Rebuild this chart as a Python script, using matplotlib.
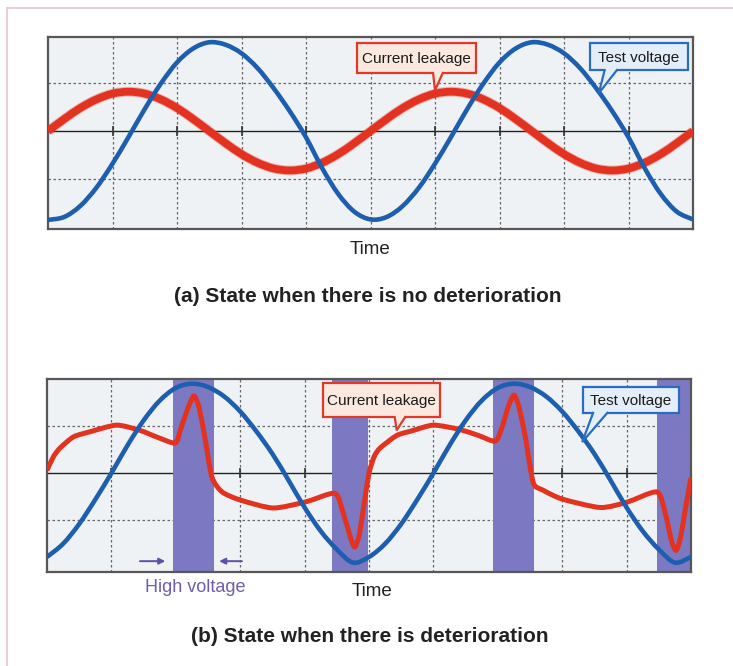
import numpy as np
import matplotlib
matplotlib.use("Agg")
import matplotlib.pyplot as plt
from matplotlib.patches import Polygon, Rectangle, PathPatch
from matplotlib.path import Path
from matplotlib.lines import Line2D

plt.rcParams['font.family'] = ['Liberation Sans', 'DejaVu Sans']

# ---- sampled waveforms (time in grid divisions, amplitude in grid divisions) ----
t_step = np.arange(0, 10.001, 0.25)

# (a) healthy insulation
volt_a = [-1.85, -1.79, -1.56, -1.18, -0.68, -0.12, 0.46, 0.99, 1.43, 1.72, 1.85,
          1.80, 1.62, 1.31, 0.89, 0.41, -0.13, -0.77, -1.31, -1.68, -1.84,
          -1.79, -1.56, -1.18, -0.68, -0.12, 0.46, 0.99, 1.43, 1.72, 1.85,
          1.80, 1.62, 1.31, 0.89, 0.41, -0.13, -0.77, -1.31, -1.68, -1.84]
leak_a = [0.0, 0.25, 0.48, 0.66, 0.78, 0.82, 0.78, 0.66, 0.48, 0.25, 0.0,
          -0.25, -0.48, -0.66, -0.78, -0.82, -0.78, -0.66, -0.48, -0.25, 0.0,
          0.25, 0.48, 0.66, 0.78, 0.82, 0.78, 0.66, 0.48, 0.25, 0.0,
          -0.25, -0.48, -0.66, -0.78, -0.82, -0.78, -0.66, -0.48, -0.25, 0.0]

# (b) deteriorated insulation
volt_b = [-1.78, -1.50, -1.08, -0.56, 0.0, 0.59, 1.12, 1.54, 1.81, 1.90,
          1.83, 1.63, 1.31, 0.89, 0.41, -0.15, -0.73, -1.23, -1.62, -1.90,
          -1.78, -1.50, -1.08, -0.56, 0.0, 0.59, 1.12, 1.54, 1.81, 1.90,
          1.83, 1.63, 1.31, 0.89, 0.41, -0.15, -0.73, -1.23, -1.62, -1.90, -1.78]
leak_b_t = [0.0, 0.1, 0.2, 0.41, 0.67, 1.08, 1.44, 1.7, 1.99, 2.07,
            2.18, 2.28, 2.36, 2.45, 2.56, 2.72, 3.0, 3.51, 4.02, 4.47,
            4.6, 4.72, 4.78, 4.85, 4.93, 5.0, 5.08, 5.17, 5.43, 5.67,
            6.0, 6.4, 6.7, 6.96, 7.06, 7.16, 7.25, 7.33, 7.43, 7.55,
            7.7, 8.0, 8.59, 9.0, 9.47, 9.6, 9.7, 9.77, 9.84, 9.92, 10.0]
leak_b = [0.06, 0.35, 0.53, 0.77, 0.88, 1.02, 0.91, 0.77, 0.64, 0.91,
          1.35, 1.64, 1.4, 0.77, -0.08, -0.4, -0.57, -0.74, -0.61, -0.43,
          -0.85, -1.4, -1.57, -1.3, -0.6, 0.0, 0.35, 0.53, 0.8, 0.9,
          1.02, 0.93, 0.8, 0.68, 0.95, 1.4, 1.66, 1.4, 0.75, -0.2,
          -0.36, -0.55, -0.73, -0.62, -0.4, -0.85, -1.45, -1.64, -1.35, -0.7, -0.1]

# high-voltage windows (start, end)
hv_windows = [(1.96, 2.59), (4.42, 4.98), (6.93, 7.56), (9.47, 10.0)]

titles = ["(a) State when there is no deterioration",
          "(b) State when there is deterioration"]
label_time = "Time"
label_leak = "Current leakage"
label_volt = "Test voltage"
label_hv = "High voltage"

BLUE = '#1d5fae'
RED = '#e3321f'
PURPLE = '#5d50a8'
BAND = '#7c78c2'
W, H = 733, 666

fig = plt.figure(figsize=(W / 100, H / 100), dpi=100)
fig.patch.set_facecolor('white')

# thin page frame
fig.add_artist(Line2D([7 / W, 1], [1 - 8 / H, 1 - 8 / H], color='#e8c6cb', lw=1.2))
fig.add_artist(Line2D([7 / W, 7 / W], [0, 1 - 8 / H], color='#e8c6cb', lw=1.2))


def smooth_trace(ax, xs, ys, k=1 / 6, **kw):
    """Draw a trace through the samples as a Catmull-Rom style Bezier path."""
    p = np.column_stack([np.asarray(xs, float), np.asarray(ys, float)])
    n = len(p)
    verts = [p[0]]
    codes = [Path.MOVETO]
    for i in range(n - 1):
        p0 = p[i - 1] if i > 0 else p[i]
        p3 = p[i + 2] if i + 2 < n else p[i + 1]
        c1 = p[i] + (p[i + 1] - p0) * k
        c2 = p[i + 1] - (p3 - p[i]) * k
        verts += [c1, c2, p[i + 1]]
        codes += [Path.CURVE4] * 3
    patch = PathPatch(Path(verts, codes), fill=False, capstyle='butt',
                      joinstyle='round', **kw)
    ax.add_patch(patch)
    return patch


def scope_axes(rect, ylim):
    ax = fig.add_axes(rect)
    ax.set_xlim(0, 10)
    ax.set_ylim(*ylim)
    ax.set_facecolor('#eef2f4')
    for s in ax.spines.values():
        s.set_color('#575757')
        s.set_linewidth(1.6)
    ax.set_xticks([])
    ax.set_yticks([])
    for gx in range(1, 10):
        ax.axvline(gx, color='#666666', lw=0.9, ls=(0, (2, 2)), zorder=1)
    for gy in (-1, 1):
        ax.axhline(gy, color='#666666', lw=0.9, ls=(0, (2, 2)), zorder=1)
    ax.axhline(0, color='#222222', lw=1.0, zorder=1)
    # small graticule marks where the divisions cross the centre line
    ax.plot(range(1, 10), [0] * 9, ls='none', marker='|', ms=7, mew=1.2,
            color='#333333', zorder=1)
    return ax


def callout(ax, box, text, ec, fc, base, tip):
    x0, x1, y0, y1 = box
    ax.add_patch(Rectangle((x0, y0), x1 - x0, y1 - y0, fc=fc, ec=ec, lw=1.6, zorder=6))
    d = (y1 - y0) * 0.08
    ax.add_patch(Polygon([(base[0], y0 + d), (base[0], y0), tip, (base[1], y0),
                          (base[1], y0 + d)], closed=True, fc=fc, ec='none', zorder=7))
    ax.plot([base[0], tip[0], base[1]], [y0, tip[1], y0], color=ec, lw=1.6,
            zorder=8, solid_joinstyle='miter')
    ax.text((x0 + x1) / 2, (y0 + y1) / 2 - 0.02, text, ha='center', va='center',
            fontsize=11, color='#1a1a1a', zorder=9)


# ---- (a) ----
ax1 = scope_axes([48 / W, 1 - 229 / H, 645 / W, 192 / H], (-2.04, 1.96))
smooth_trace(ax1, t_step, leak_a, color=RED, lw=7.0, alpha=0.3, zorder=3)
smooth_trace(ax1, t_step, leak_a, color=RED, lw=5.6, zorder=3)
smooth_trace(ax1, t_step, volt_a, color=BLUE, lw=3.3, zorder=4)
callout(ax1, (4.79, 6.63, 1.21, 1.83), label_leak, '#e0392a', '#fbe9e0',
        (5.97, 6.12), (6.0, 0.85))
callout(ax1, (8.40, 9.92, 1.27, 1.83), label_volt, '#2a6cc0', '#e4eef9',
        (8.63, 8.82), (8.54, 0.79))

# ---- (b) ----
ax2 = scope_axes([47 / W, 1 - 572 / H, 644 / W, 193 / H], (-2.1, 2.0))
for a, b in hv_windows:
    ax2.axvspan(a, b, color=BAND, zorder=2, lw=0)
smooth_trace(ax2, leak_b_t, leak_b, k=0.12, color=RED, lw=3.6, zorder=3)
smooth_trace(ax2, t_step, volt_b, color=BLUE, lw=3.3, zorder=4)
callout(ax2, (4.29, 6.10, 1.19, 1.91), label_leak, '#e0392a', '#fbe9e0',
        (5.40, 5.56), (5.43, 0.91))
callout(ax2, (8.32, 9.81, 1.28, 1.83), label_volt, '#2a6cc0', '#e4eef9',
        (8.48, 8.70), (8.31, 0.66))
ax2.annotate('', xy=(1.88, -1.87), xytext=(1.40, -1.87),
             arrowprops=dict(arrowstyle='-|>', color=PURPLE, lw=1.4, mutation_scale=9),
             zorder=9)
ax2.annotate('', xy=(2.63, -1.87), xytext=(3.07, -1.87),
             arrowprops=dict(arrowstyle='-|>', color=PURPLE, lw=1.4, mutation_scale=9),
             zorder=9)

# ---- labels ----
fig.text(370 / W, 1 - 250 / H, label_time, ha='center', va='center',
         fontsize=13.5, color='#222222')
fig.text(368 / W, 1 - 297 / H, titles[0], ha='center', va='center',
         fontsize=15, fontweight='bold', color='#222222')
fig.text(372 / W, 1 - 591 / H, label_time, ha='center', va='center',
         fontsize=13.5, color='#222222')
fig.text(195 / W, 1 - 588 / H, label_hv, ha='center', va='center',
         fontsize=13, color='#6a5fb0')
fig.text(370 / W, 1 - 636 / H, titles[1], ha='center', va='center',
         fontsize=15, fontweight='bold', color='#222222')

fig.savefig('out.png', dpi=100, facecolor='white')
